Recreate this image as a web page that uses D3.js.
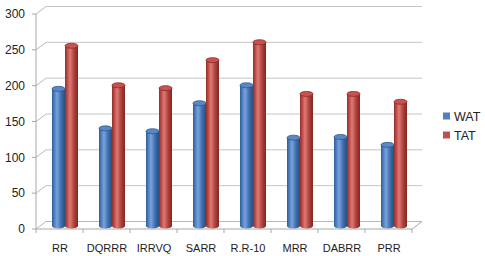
<!DOCTYPE html>
<html><head><meta charset="utf-8">
<script src="https://cdn.jsdelivr.net/npm/d3@7"></script>
<style>html,body{margin:0;padding:0;background:#fff;}svg{display:block;}</style>
</head><body><svg id="c" width="485" height="256"></svg>
<script>
const categories = ["RR","DQRRR","IRRVQ","SARR","R.R-10","MRR","DABRR","PRR"];
const seriesNames = ["WAT","TAT"];
const watValues = [191,136,132,171,196,123,124,113];
const tatValues = [251,196,192,231,256,184,184,173];
const yTicks = [0,50,100,150,200,250,300];

const svg = d3.select("#c");
const defs = svg.append("defs");
const font = "'Liberation Sans', Arial, sans-serif";

const depthX = 10, depthY = -7.5;
const x = d3.scaleBand().domain(categories).range([36,412]);
const sub = d3.scaleBand().domain(seriesNames).range([16,42]);
const yFront = d3.scaleLinear().domain([0,300]).range([229,14]);
const yBar = d3.scaleLinear().domain([0,300]).range([226,10.6]);

const colors = {WAT:["#2f5c95","#4d7fc0","#7aa3dc","#3f6dac","#27507f"],
                TAT:["#8e2f2c","#bf4b47","#de7a75","#b0403c","#7e2724"]};
seriesNames.forEach(s=>{
  const g = defs.append("linearGradient").attr("id","g"+s).attr("x1","0").attr("x2","1").attr("y1","0").attr("y2","0");
  const c = colors[s];
  [[0,c[0]],[0.18,c[1]],[0.38,c[2]],[0.7,c[3]],[1,c[4]]].forEach(([o,col])=>g.append("stop").attr("offset",o).attr("stop-color",col));
});

// back wall gridlines
const grid = svg.append("g");
yTicks.forEach(t=>{
  const yf = yFront(t), yb = yf + depthY;
  grid.append("line").attr("x1",36).attr("y1",yf).attr("x2",36+depthX).attr("y2",yb)
    .attr("stroke","#b8b8b8").attr("stroke-width",1);
  grid.append("line").attr("x1",36+depthX).attr("y1",yb).attr("x2",412+depthX).attr("y2",yb)
    .attr("stroke", t===0 ? "#b8b8b8" : "#c4c4c4").attr("stroke-width",1);
});
// floor
grid.append("line").attr("x1",36).attr("y1",yFront(0)).attr("x2",412).attr("y2",yFront(0)).attr("stroke","#a8a8a8");
grid.append("line").attr("x1",412).attr("y1",yFront(0)).attr("x2",412+depthX).attr("y2",yFront(0)+depthY).attr("stroke","#a8a8a8");
// y axis
grid.append("line").attr("x1",36).attr("y1",yFront(300)).attr("x2",36).attr("y2",yFront(0)).attr("stroke","#a8a8a8");
yTicks.forEach(t=>{
  grid.append("line").attr("x1",32).attr("x2",36).attr("y1",yFront(t)).attr("y2",yFront(t)).attr("stroke","#a8a8a8");
  svg.append("text").attr("x",25).attr("y",yFront(t)).attr("dy","0.35em").attr("text-anchor","end")
    .attr("font-family",font).attr("font-size",12).attr("fill","#222").text(t);
});
// category ticks
x.domain().concat(["_end"]).forEach((c,i)=>{
  const xx = i<categories.length ? x(c) : 412;
  grid.append("line").attr("x1",xx).attr("x2",xx).attr("y1",yFront(0)).attr("y2",yFront(0)+4).attr("stroke","#a8a8a8");
});
categories.forEach(c=>{
  svg.append("text").attr("x",x(c)+x.bandwidth()/2+0.5).attr("y",252).attr("text-anchor","middle")
    .attr("font-family",font).attr("font-size",11).attr("fill","#222").text(c);
});

// bars (cylinders)
const data = [];
categories.forEach((c,i)=>{
  data.push({cat:c,s:"WAT",v:watValues[i]});
  data.push({cat:c,s:"TAT",v:tatValues[i]});
});
const ry = 2.5;
const bars = svg.append("g");
data.forEach(d=>{
  const w = sub.bandwidth();
  const cx = x(d.cat) + sub(d.s) + w/2;
  const rx = w/2;
  const y0 = yBar(0), y1 = yBar(d.v);
  const path = `M${cx-rx},${y1} L${cx-rx},${y0} A${rx},${ry} 0 0 0 ${cx+rx},${y0} L${cx+rx},${y1} Z`;
  bars.append("path").attr("d",path).attr("fill",`url(#g${d.s})`);
  bars.append("ellipse").attr("cx",cx).attr("cy",y1).attr("rx",rx).attr("ry",ry)
    .attr("fill", d.s==="WAT" ? "#5a88c6" : "#c9524e")
    .attr("stroke", d.s==="WAT" ? "#2d5890" : "#8a2c29").attr("stroke-width",0.8);
});

// legend
const lg = svg.append("g");
[["WAT",116],["TAT",135]].forEach(([s,yy])=>{
  lg.append("rect").attr("x",443).attr("y",yy-3.5).attr("width",7).attr("height",7)
    .attr("fill", s==="WAT" ? "#4f81bd" : "#c0504d");
  lg.append("text").attr("x",454).attr("y",yy).attr("dy","0.36em")
    .attr("font-family",font).attr("font-size",12.5).attr("fill","#222").text(s);
});
</script></body></html>
